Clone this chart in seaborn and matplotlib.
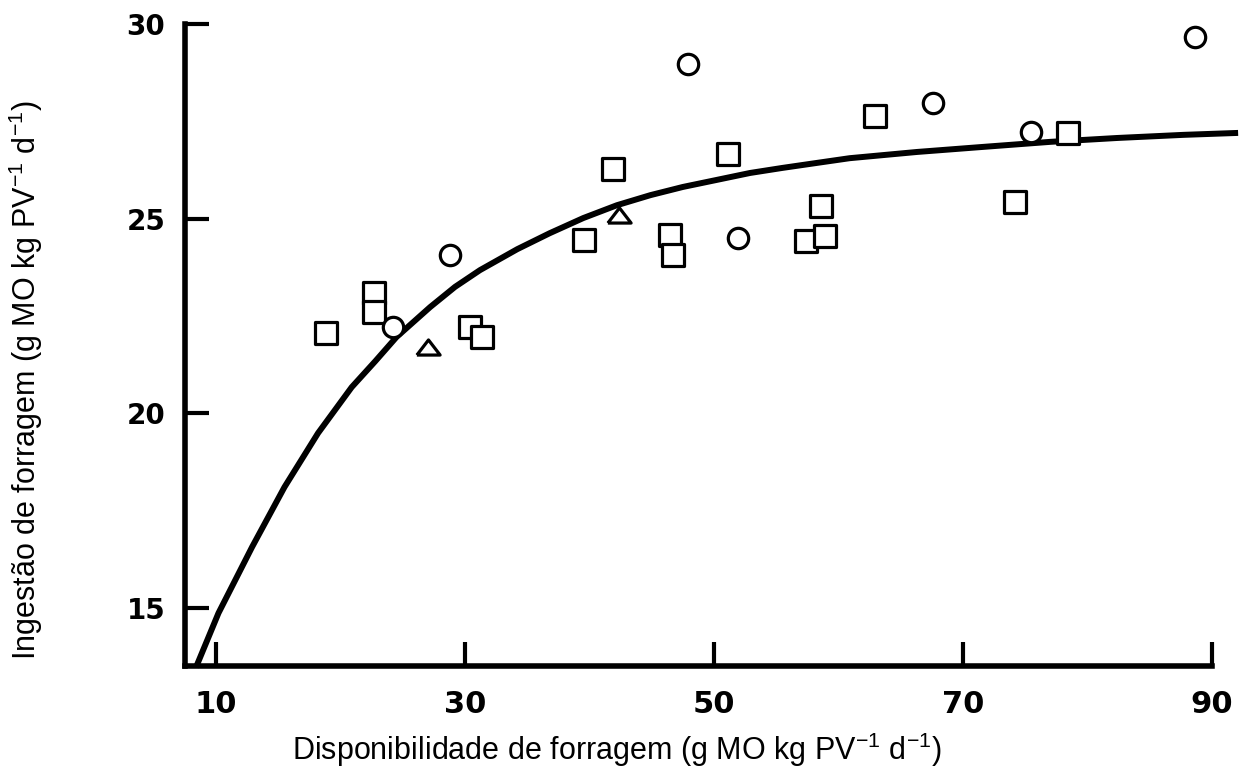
import matplotlib
matplotlib.use("Agg")
import pandas as pd
import matplotlib.pyplot as plt
import seaborn as sns

# Style
sns.set_style("ticks", {"axes.edgecolor": "black", "xtick.color": "black",
                        "ytick.color": "black", "text.color": "black"})
plt.rcParams['font.family'] = ['Liberation Sans', 'DejaVu Sans']
plt.rcParams['mathtext.default'] = 'regular'

# Data
square_x = [18.8, 22.7, 22.7, 30.4, 31.4, 39.6, 41.9, 46.5, 46.7, 51.1,
            57.4, 58.9, 58.6, 62.9, 74.2, 78.4]
square_y = [22.06, 23.09, 22.60, 22.22, 21.96, 24.45, 26.28, 24.58, 24.07, 26.67,
            24.43, 24.56, 25.33, 27.64, 25.43, 27.21]
circle_x = [24.2, 28.8, 47.9, 51.9, 67.6, 75.5, 88.6]
circle_y = [22.22, 24.07, 28.98, 24.51, 27.98, 27.23, 29.68]
triangle_x = [27.0, 42.4]
triangle_y = [21.70, 25.10]

curve_x = [8.4, 10.2, 12.9, 15.5, 18.2, 20.9, 22.8, 24.5, 27.2, 29.2, 31.2,
           34.2, 36.8, 39.5, 42.2, 44.9, 47.5, 50.2, 52.9, 55.5, 58.3, 60.9,
           66.3, 71.6, 77.0, 82.4, 87.7, 92.1]
curve_y = [13.47, 14.86, 16.56, 18.10, 19.49, 20.67, 21.34, 21.96, 22.73, 23.25, 23.68,
           24.22, 24.63, 25.02, 25.35, 25.61, 25.82, 26.00, 26.18, 26.31, 26.44, 26.56,
           26.72, 26.85, 26.98, 27.08, 27.16, 27.21]

x_ticks = [10, 30, 50, 70, 90]
y_ticks = [15, 20, 25, 30]

points = pd.concat([
    pd.DataFrame({'x': square_x, 'y': square_y, 'shape': 'square'}),
    pd.DataFrame({'x': circle_x, 'y': circle_y, 'shape': 'circle'}),
    pd.DataFrame({'x': triangle_x, 'y': triangle_y, 'shape': 'triangle'}),
])

fig = plt.figure(figsize=(12.58, 7.69), dpi=100)
ax = fig.add_axes([0.1420, 0.1087, 0.8511, 0.8848])

sns.lineplot(x=curve_x, y=curve_y, color='black', linewidth=4.3,
             sort=False, estimator=None, ax=ax, zorder=2,
             solid_joinstyle='round', solid_capstyle='butt')

tri = [(-1, -0.65), (1, -0.65), (0, 0.65), (-1, -0.65)]
shapes = {'square': ('s', 245), 'circle': ('o', 215), 'triangle': (tri, 280)}
for name, (mk, size) in shapes.items():
    sub = points[points['shape'] == name]
    sns.scatterplot(data=sub, x='x', y='y', marker=mk, s=size,
                    facecolor='white', edgecolor='black', linewidth=2.3,
                    ax=ax, zorder=3)

ax.set_xlim(7, 93)
ax.set_ylim(13, 30.5)
ax.set_xticks(x_ticks)
ax.set_yticks(y_ticks)
ax.set_xlabel('')
ax.set_ylabel('')

for s in ['top', 'right']:
    ax.spines[s].set_visible(False)
ax.spines['left'].set_position(('data', 7.5))
ax.spines['bottom'].set_position(('data', 13.5))
ax.spines['left'].set_bounds(13.5, 30)
ax.spines['bottom'].set_bounds(7.5, 90)
for s in ['left', 'bottom']:
    ax.spines[s].set_linewidth(4)

ax.tick_params(axis='both', direction='in', length=17, width=3, colors='black')
ax.tick_params(axis='x', pad=17, labelsize=22)
ax.tick_params(axis='y', pad=14, labelsize=20)
for lab in ax.get_xticklabels() + ax.get_yticklabels():
    lab.set_family(['DejaVu Sans'])
    lab.set_fontweight('bold')

fig.text(617 / 1258, 1 - 750 / 769,
         'Disponibilidade de forragem (g MO kg PV$^{-1}$ d$^{-1}$)',
         ha='center', va='center', fontsize=22)
fig.text(26 / 1258, 1 - 380 / 769,
         'Ingestão de forragem (g MO kg PV$^{-1}$ d$^{-1}$)',
         ha='center', va='center', rotation=90, fontsize=22)

fig.savefig('out.png', dpi=100)
